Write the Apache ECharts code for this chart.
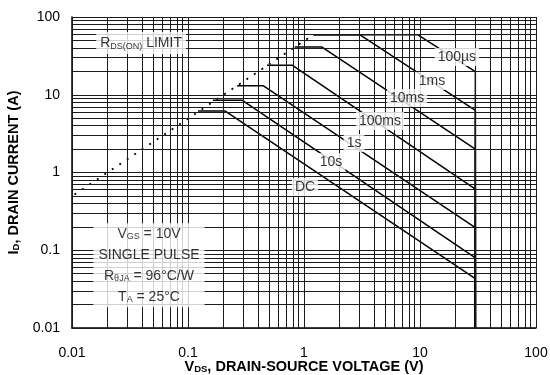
<!DOCTYPE html>
<html>
<head>
<meta charset="utf-8">
<script src="https://cdn.jsdelivr.net/npm/echarts@6/dist/echarts.min.js"></script>
<style>
  html, body { margin: 0; padding: 0; background: #fff; }
  #chart { width: 550px; height: 375px; }
</style>
</head>
<body>
<div id="chart"></div>
<script>
// Axis decade labels
const xTickLabels = ['0.01', '0.1', '1', '10', '100'];
const yTickLabels = ['0.01', '0.1', '1', '10', '100'];

// Safe operating area boundaries: [V_DS (V), I_D (A)]
const rdsOnLimit = [[0.0105, 0.52], [1.2, 59]];
const soa100us = [[1.2, 59], [9.6, 59], [30, 19.8], [30, 0.01]];
const soa1ms   = [[1.2, 59], [3.04, 59], [30, 6.3], [30, 0.01]];
const soa10ms  = [[0.83, 41], [1.43, 41], [30, 2.0], [30, 0.01]];
const soa100ms = [[0.48, 24], [0.79, 24], [30, 0.61], [30, 0.01]];
const soa1s    = [[0.265, 13.1], [0.444, 13.1], [30, 0.195], [30, 0.01]];
const soa10s   = [[0.164, 8.5], [0.292, 8.5], [30, 0.080], [30, 0.01]];
const soaDC    = [[0.122, 6.2], [0.208, 6.2], [30, 0.043], [30, 0.01]];

// Curve names and where their tags sit (in V, A)
const curveNames = ['100µs', '1ms', '10ms', '100ms', '1s', '10s', 'DC'];
const curveTagAt = [[20.8, 30.6], [12.7, 15.0], [7.73, 9.08], [4.52, 4.59], [2.70, 2.39], [1.71, 1.36], [1.02, 0.651]];
const limitTagAt = [0.0394, 46.3];
const conditionsAt = [0.0461, 0.0640];

const FONT = '"Liberation Sans", Arial, Helvetica, sans-serif';

// Log grid: 1..9 within each decade, plus the final decade
function logGridValues(lo, hi) {
  const vals = [];
  for (let d = lo; d < hi; d++) {
    for (let k = 1; k <= 9; k++) vals.push(+(k * Math.pow(10, d)).toPrecision(6));
  }
  vals.push(Math.pow(10, hi));
  return vals;
}
const gridX = logGridValues(-2, 2);
const gridY = logGridValues(-2, 2);

function decadeLabel(labels) {
  return function (v) {
    const i = Math.round(Math.log10(v)) + 2;
    return labels[i] !== undefined ? labels[i] : '';
  };
}

const norm = { fontSize: 14, fontFamily: FONT, color: '#000' };
const sub = { fontSize: 9, fontFamily: FONT, color: '#000', verticalAlign: 'bottom' };
const subTall = { fontSize: 9, fontFamily: FONT, color: '#000', verticalAlign: 'bottom', padding: [0, 0, 3, 0] };

function titleRich(size) {
  return {
    b: { fontSize: size, fontWeight: 'bold', fontFamily: FONT, color: '#000' },
    bs: { fontSize: 9.5, fontWeight: 'bold', fontFamily: FONT, color: '#000', verticalAlign: 'bottom' }
  };
}

function curveSeries(data) {
  return {
    type: 'line', data: data, z: 3, silent: true,
    showSymbol: false, symbol: 'none', animation: false,
    lineStyle: { color: '#000', width: 1.5 }
  };
}

const tagData = curveNames.map((n, i) => ({
  name: n, value: curveTagAt[i],
  label: { formatter: '{n|' + n + '}', padding: [2, 3] }
}));
tagData.push({
  name: 'limit', value: limitTagAt,
  label: { formatter: '{n|R}{s|DS(ON)}{n| LIMIT}', padding: [3, 4], lineHeight: 16 }
});
tagData.push({
  name: 'conditions', value: conditionsAt,
  label: {
    formatter: '{n|V}{t|GS}{n| = 10V}\n{n|SINGLE PULSE}\n{n|R}{t|θJA}{n| = 96°C/W}\n{n|T}{t|A}{n| = 25°C}',
    lineHeight: 21, padding: [0, 5]
  }
});

const option = {
  animation: false,
  backgroundColor: '#fff',
  grid: { left: 72, right: 14, top: 17, bottom: 47, containLabel: false, outerBoundsMode: 'none' },
  xAxis: {
    type: 'log', logBase: 10, min: 0.01, max: 100, splitNumber: 4,
    name: '{b|V}{bs|DS}{b|, DRAIN-SOURCE VOLTAGE (V)}',
    nameLocation: 'middle', nameGap: 31, nameMoveOverlap: false,
    nameTextStyle: { rich: titleRich(14.5) },
    axisLine: { show: true, lineStyle: { color: '#000', width: 1.5 } },
    axisTick: { show: false },
    splitLine: { show: false },
    axisLabel: { formatter: decadeLabel(xTickLabels), fontSize: 14, fontFamily: FONT, color: '#000', margin: 18 }
  },
  yAxis: {
    type: 'log', logBase: 10, min: 0.01, max: 100, splitNumber: 4,
    name: '{b|I}{bs|D}{b|, DRAIN CURRENT (A)}',
    nameLocation: 'middle', nameGap: 48, nameRotate: 90,
    nameTextStyle: { rich: titleRich(14.5) },
    axisLine: { show: true, lineStyle: { color: '#000', width: 1.5 } },
    axisTick: { show: false },
    splitLine: { show: false },
    axisLabel: { formatter: decadeLabel(yTickLabels), fontSize: 14, fontFamily: FONT, color: '#000', margin: 12 }
  },
  series: [
    {
      // grid lines
      type: 'line', data: [], z: 1, silent: true, symbol: 'none',
      markLine: {
        silent: true, symbol: 'none', animation: false,
        label: { show: false },
        lineStyle: { color: '#1a1a1a', width: 1, type: 'solid' },
        emphasis: { disabled: true },
        data: gridX.map(v => ({ xAxis: v })).concat(gridY.map(v => ({ yAxis: v })))
      }
    },
    {
      type: 'line', data: rdsOnLimit, z: 3, silent: true,
      showSymbol: false, symbol: 'none',
      lineStyle: { color: '#000', width: 1.8, type: [2, 7] }
    },
    curveSeries(soa100us),
    curveSeries(soa1ms),
    curveSeries(soa10ms),
    curveSeries(soa100ms),
    curveSeries(soa1s),
    curveSeries(soa10s),
    curveSeries(soaDC),
    {
      type: 'scatter', z: 10, silent: true, symbolSize: 0,
      itemStyle: { color: 'rgba(0,0,0,0)' },
      data: tagData,
      label: {
        show: true, position: 'inside',
        backgroundColor: '#fff', color: '#000',
        fontSize: 14, fontFamily: FONT,
        rich: { n: norm, s: sub, t: subTall }
      }
    }
  ]
};

const chart = echarts.init(document.getElementById('chart'), null, { renderer: 'canvas' });
chart.setOption(option);
</script>
</body>
</html>
